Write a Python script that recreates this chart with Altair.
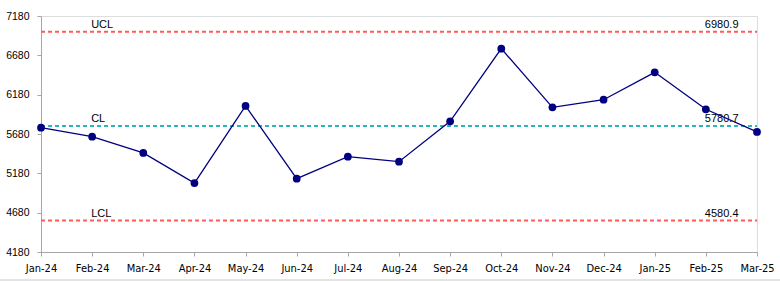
import altair as alt
import pandas as pd

months = ["Jan-24", "Feb-24", "Mar-24", "Apr-24", "May-24", "Jun-24", "Jul-24",
          "Aug-24", "Sep-24", "Oct-24", "Nov-24", "Dec-24", "Jan-25", "Feb-25", "Mar-25"]
values = [5760, 5646, 5439, 5057, 6036, 5112, 5392, 5328, 5842, 6765, 6019, 6116, 6464, 5994, 5706]

limit_names = ["UCL", "CL", "LCL"]
limit_values = [6980.9, 5780.7, 4580.4]
limit_colors = ["#FF5B5B", "#2BB5B8", "#FF5B5B"]
name_label_month = "Feb-24"
value_label_month = "Feb-25"

y_ticks = [4180, 4680, 5180, 5680, 6180, 6680, 7180]

df = pd.DataFrame({"month": months, "value": values})
lim = pd.DataFrame({
    "name": limit_names,
    "val": limit_values,
    "color": limit_colors,
    "start": months[0],
    "end": months[-1],
    "name_at": name_label_month,
    "value_at": value_label_month,
    "label": [f"{v:.1f}" for v in limit_values],
})

W, H = 716, 236

xscale = alt.Scale(type="point", domain=months, padding=0)
yscale = alt.Scale(domain=[4180, 7180], nice=False, zero=False)

xaxis = alt.Axis(title=None, labelFont="DejaVu Sans Condensed", labelFontSize=11,
                 labelColor="#000000", domainColor="#A6A6A6", tickColor="#A6A6A6",
                 tickSize=4, labelPadding=6, labelAngle=0, grid=False, labelOverlap=False)
yaxis = alt.Axis(title=None, values=y_ticks, labelFont="Liberation Sans", labelFontSize=10.5,
                 labelColor="#000000", domainColor="#A6A6A6", tickColor="#A6A6A6",
                 tickSize=4, labelPadding=8, grid=False, format="d", labelOverlap=False,
                 tickCount=7)

limits_rule = alt.Chart(lim).mark_rule(strokeDash=[4, 3], strokeWidth=2).encode(
    x=alt.X("start:N", scale=xscale, axis=xaxis),
    x2="end:N",
    y=alt.Y("val:Q", scale=yscale, axis=yaxis),
    color=alt.Color("color:N", scale=None),
)

name_text = alt.Chart(lim).mark_text(align="left", baseline="bottom", dx=-1, dy=-2,
                                     font="Liberation Sans", fontSize=11, color="#000000").encode(
    x=alt.X("name_at:N", scale=xscale, axis=xaxis),
    y=alt.Y("val:Q", scale=yscale, axis=yaxis),
    text="name:N",
)

value_text = alt.Chart(lim).mark_text(align="left", baseline="bottom", dx=-1, dy=-2,
                                      font="Liberation Sans", fontSize=11, color="#000000").encode(
    x=alt.X("value_at:N", scale=xscale, axis=xaxis),
    y=alt.Y("val:Q", scale=yscale, axis=yaxis),
    text="label:N",
)

line = alt.Chart(df).mark_line(color="#000080", strokeWidth=1.3).encode(
    x=alt.X("month:N", scale=xscale, sort=months, axis=xaxis),
    y=alt.Y("value:Q", scale=yscale, axis=yaxis),
)

pts = alt.Chart(df).mark_point(filled=True, color="#000080", size=60, opacity=1).encode(
    x=alt.X("month:N", scale=xscale, sort=months, axis=xaxis),
    y=alt.Y("value:Q", scale=yscale, axis=yaxis),
)

border = alt.Chart(pd.DataFrame({"a": [0]})).mark_rule(color="#C8C8C8", strokeWidth=1).encode(
    x=alt.value(-41), x2=alt.value(W + 23), y=alt.value(H + 28),
)

chart = alt.layer(limits_rule, name_text, value_text, line, pts, border).properties(
    width=W, height=H,
    autosize=alt.AutoSizeParams(type="none"),
    padding={"left": 41, "top": 16, "right": 23, "bottom": 29},
).configure_view(stroke=None).configure(background="#FFFFFF")

chart.save("out.html", embed_options={"renderer": "svg", "actions": False})
